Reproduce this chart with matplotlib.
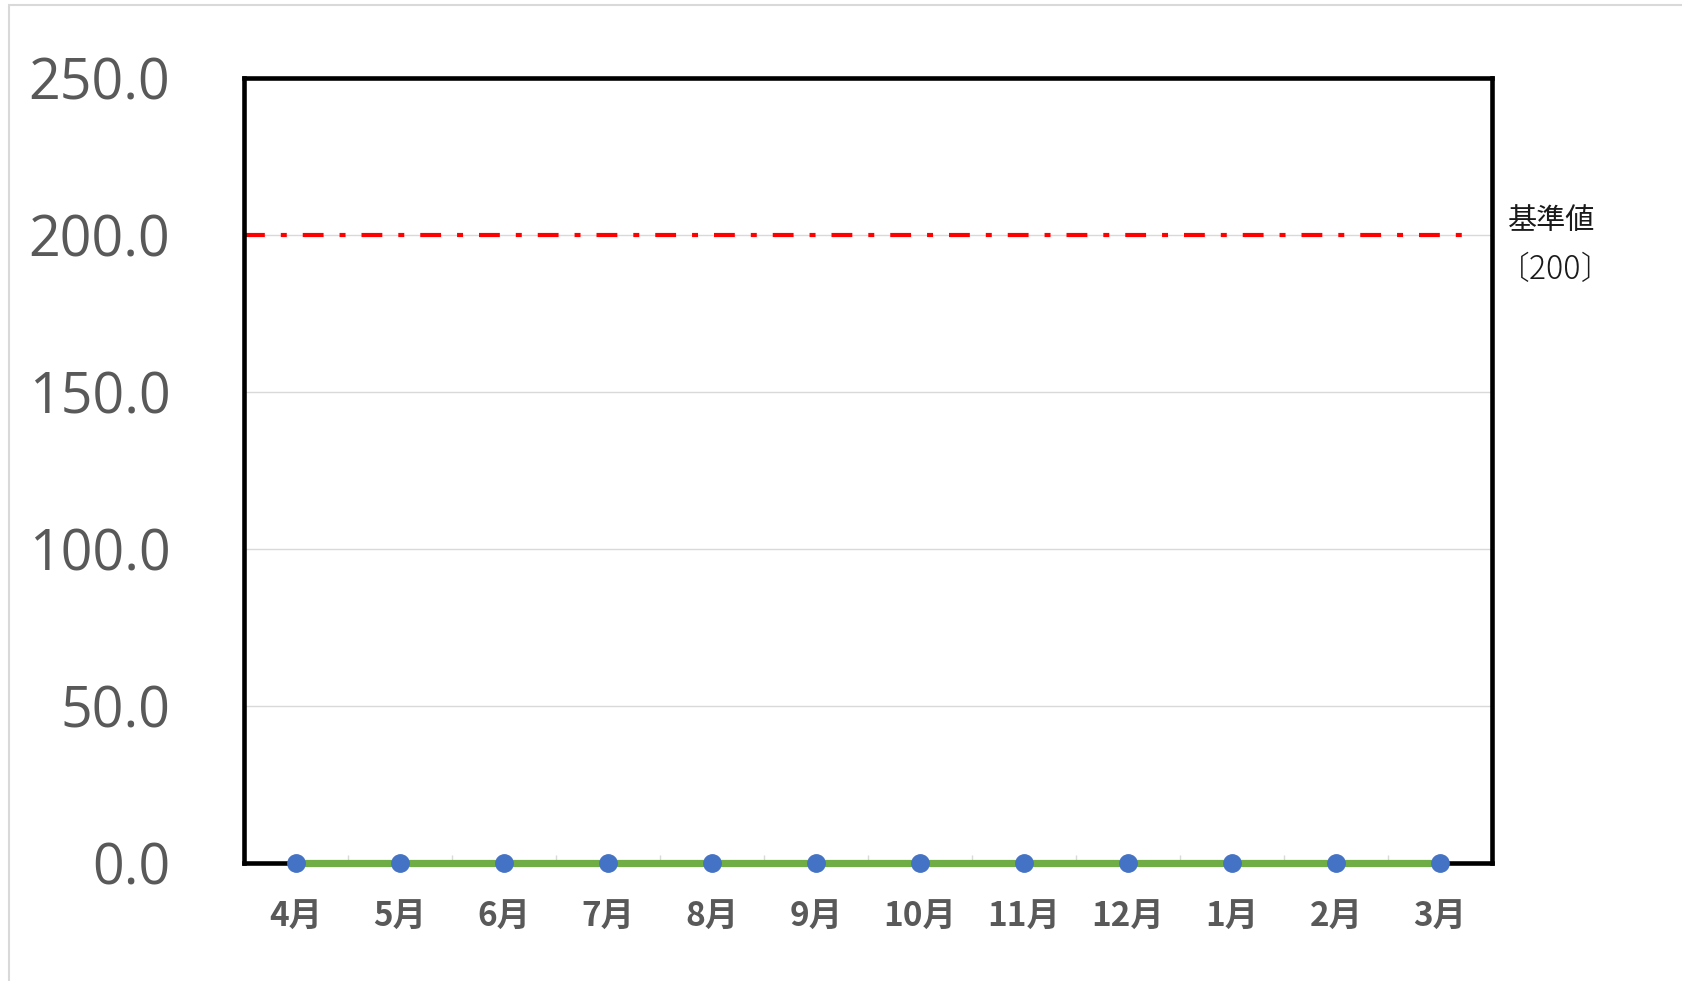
import matplotlib.pyplot as plt
from matplotlib.patches import Rectangle
from matplotlib.ticker import FixedLocator

plt.rcParams['font.family'] = ['Noto Sans CJK JP', 'DejaVu Sans']
plt.rcParams['lines.scale_dashes'] = False

months = ['4月', '5月', '6月', '7月', '8月', '9月',
          '10月', '11月', '12月', '1月', '2月', '3月']
values = [0.0, 0.0, 0.0, 0.0, 0.0, 0.0, 0.0, 0.0, 0.0, 0.0, 0.0, 0.0]
base_value = 200
base_label = '基準値'
base_note = '〔200〕'
y_ticks = [0, 50, 100, 150, 200, 250]

fig = plt.figure(figsize=(16.83, 9.81), dpi=100)
ax = fig.add_axes([0.145, 0.1203, 0.7415, 0.8002])

x = list(range(len(months)))

# grid
for t in y_ticks[1:-1]:
    ax.axhline(t, color='#d9d9d9', linewidth=1.0, zorder=1)

# reference line
ax.hlines(base_value, -0.5, len(months) - 0.79, colors='#ff0000',
          linewidth=3.0, linestyles=[(0, (15, 11.5, 4.3, 11.5))], zorder=3)

# data
ax.plot(x, values, color='#70ad47', linewidth=5.2, zorder=4,
        solid_capstyle='butt', clip_on=False)
ax.plot(x, values, linestyle='none', marker='o', markersize=12.5,
        color='#4472c4', zorder=5, clip_on=False)

ax.set_xlim(-0.5, len(months) - 0.5)
ax.set_ylim(0, 250)
ax.set_yticks(y_ticks)
ax.set_yticklabels([f'{v:.1f}' for v in y_ticks])
ax.set_xticks(x)
ax.set_xticklabels(months)
ax.xaxis.set_minor_locator(FixedLocator([i + 0.5 for i in x[:-1]]))

ax.tick_params(axis='y', length=0, pad=53, labelsize=40, labelcolor='#595959')
ax.tick_params(axis='x', which='major', length=0, pad=27, labelsize=24,
               labelcolor='#595959')
ax.tick_params(axis='x', which='minor', direction='in', length=6,
               color='#d9d9d9', width=1.0)
for lab in ax.get_yticklabels():
    lab.set_fontfamily(['Open Sans', 'DejaVu Sans'])
for lab in ax.get_xticklabels():
    lab.set_fontweight('bold')

for s in ax.spines.values():
    s.set_linewidth(3.3)
    s.set_color('black')
    s.set_zorder(3.5)

# labels on the right
fig.text(1508 / 1683, 1 - 221 / 981, base_label, fontsize=21,
         color='#1a1a1a', va='center', ha='left')
fig.text(1498 / 1683, 1 - 270 / 981, base_note, fontsize=23,
         color='#1a1a1a', va='center', ha='left', fontweight='light')

# outer chart frame
fig.patches.append(Rectangle((9 / 1683, -0.05), 1.2, 1.05 - 5 / 981,
                             transform=fig.transFigure, fill=False,
                             edgecolor='#d9d9d9', linewidth=1.5))

fig.savefig('out.png', dpi=100)
